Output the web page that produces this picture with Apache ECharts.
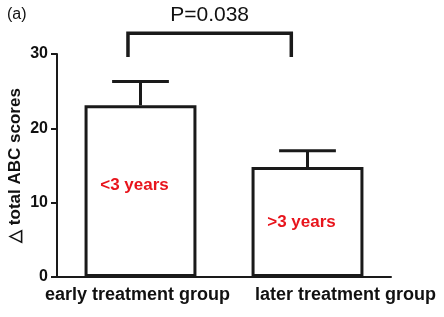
<!DOCTYPE html>
<html><head><meta charset="utf-8">
<script src="https://cdn.jsdelivr.net/npm/echarts@6/dist/echarts.min.js"></script>
<style>html,body{margin:0;padding:0;background:#fff}#c{width:444px;height:317px}</style>
</head><body><div id="c"></div>
<script>
const categories = ['early treatment group', 'later treatment group'];
const means = [23.1, 14.8];
const errUpper = [26.3, 17.0];
const innerLabels = ['<3 years', '>3 years'];
const innerLabelY = [12.4, 7.3];
const yTicks = [0, 10, 20, 30];
const bracketY = [29.6, 32.8];
const pText = 'P=0.038';

const FONT = '"Liberation Sans", Arial, sans-serif';
const chart = echarts.init(document.getElementById('c'), null, {renderer: 'canvas'});
chart.setOption({
  animation: false,
  grid: {left: 57, right: 53, top: 54, bottom: 40, containLabel: false, outerBoundsMode: 'none'},
  xAxis: {
    type: 'category', data: categories,
    axisLine: {lineStyle: {color: '#1a1a1a', width: 2}},
    axisTick: {alignWithLabel: true, length: 6, lineStyle: {width: 2, color: '#1a1a1a'}},
    axisLabel: {color: '#111', fontSize: 18, fontWeight: 'bold', fontFamily: FONT, margin: 9, interval: 0,
      hideOverlap: false,
      formatter: (v, i) => i === 0 ? '{a|' + v + '}' : '{b|' + v + '}',
      rich: {
        a: {fontSize: 18, fontWeight: 'bold', fontFamily: FONT, color: '#111', padding: [0, 6, 0, 0]},
        b: {fontSize: 18, fontWeight: 'bold', fontFamily: FONT, color: '#111', padding: [0, 0, 0, 76]}
      }
    }
  },
  yAxis: {
    type: 'value', min: 0, max: 30, interval: 10,
    name: '\u25B3 total ABC scores', nameLocation: 'middle', nameGap: 33, nameMoveOverlap: false,
    nameTextStyle: {color: '#111', fontSize: 17, fontWeight: 'bold', fontFamily: FONT},
    axisLine: {show: true, lineStyle: {color: '#1a1a1a', width: 2}},
    axisTick: {show: true, length: 6, lineStyle: {width: 2, color: '#1a1a1a'}},
    splitLine: {show: false},
    axisLabel: {color: '#111', fontSize: 16, fontWeight: 'bold', fontFamily: FONT, margin: 9,
      formatter: v => yTicks.includes(v) ? String(v) : ''}
  },
  graphic: [
    {type: 'text', left: 7, top: 7, style: {text: '(a)', font: '16px ' + FONT, fill: '#111'}}
  ],
  series: [
    {
      type: 'bar', data: means, barWidth: '67%',
      itemStyle: {color: '#fff', borderColor: '#1a1a1a', borderWidth: 3},
      z: 2
    },
    {
      type: 'custom', z: 3,
      data: means.map((m, i) => [i, m, errUpper[i]]),
      renderItem: function (params, api) {
        const base = api.coord([api.value(0), api.value(1)]);
        const top = api.coord([api.value(0), api.value(2)]);
        const half = api.size([1, 0])[0] * 0.17;
        return {type: 'group', children: [
          {type: 'line', shape: {x1: base[0], y1: base[1], x2: top[0], y2: top[1]}, style: {stroke: '#1a1a1a', lineWidth: 3}},
          {type: 'line', shape: {x1: top[0] - half, y1: top[1], x2: top[0] + half, y2: top[1]}, style: {stroke: '#1a1a1a', lineWidth: 3}}
        ]};
      }
    },
    {
      type: 'custom', z: 4,
      data: innerLabels.map((t, i) => [i, innerLabelY[i]]),
      renderItem: function (params, api) {
        const p = api.coord([api.value(0), api.value(1)]);
        return {type: 'text', x: p[0] - 6, y: p[1], style: {text: innerLabels[params.dataIndex], fill: '#e8141c', font: 'bold 17px ' + FONT, align: 'center', verticalAlign: 'middle'}};
      }
    },
    {
      type: 'custom', z: 5, clip: false,
      data: [[0, bracketY[0], bracketY[1]]],
      renderItem: function (params, api) {
        const a = api.coord([0, api.value(1)]);
        const b = api.coord([1, api.value(1)]);
        const t = api.coord([0, api.value(2)]);
        const w = api.size([1, 0])[0];
        const x1 = a[0] - w * 0.075, x2 = b[0] - w * 0.097;
        return {type: 'group', children: [
          {type: 'polyline', shape: {points: [[x1, a[1]], [x1, t[1]], [x2, t[1]], [x2, b[1]]]}, style: {stroke: '#1a1a1a', lineWidth: 3.5, fill: null}},
          {type: 'text', x: (x1 + x2) / 2, y: t[1] - 18, style: {text: pText, fill: '#111', font: '21px ' + FONT, align: 'center', verticalAlign: 'middle'}}
        ]};
      }
    }
  ]
});
</script></body></html>
